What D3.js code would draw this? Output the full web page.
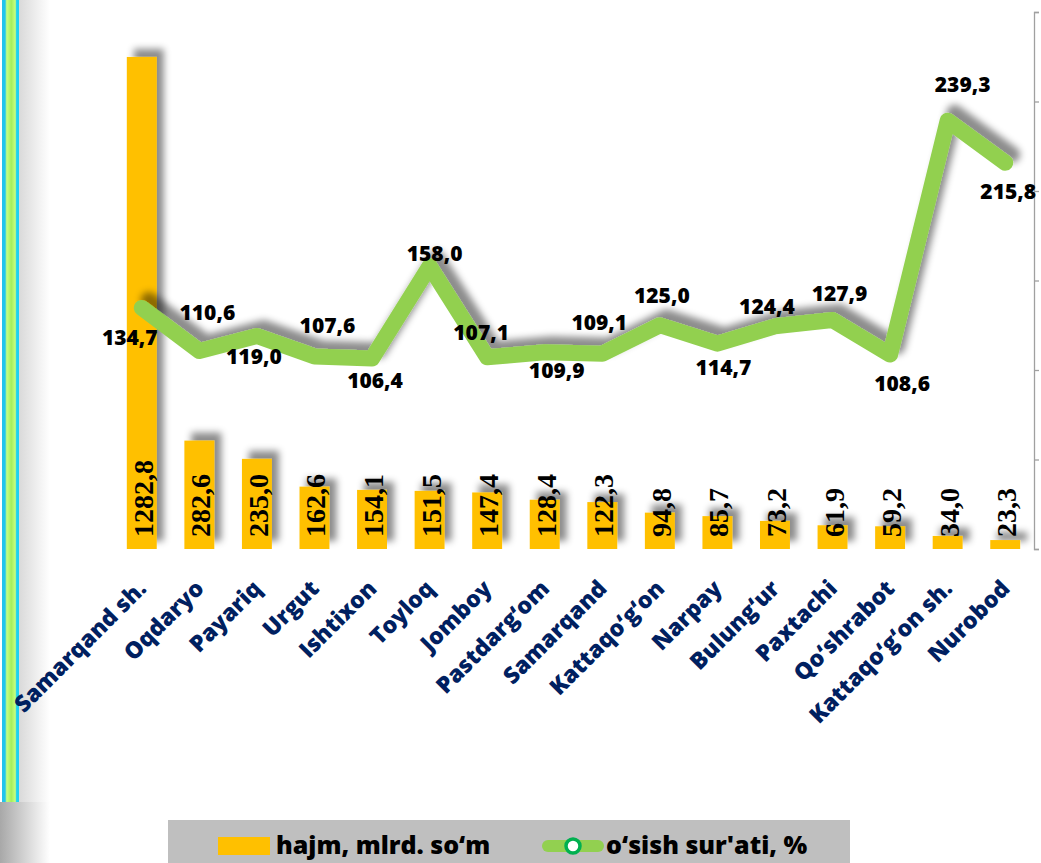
<!doctype html>
<meta charset="utf-8">
<style>
body { margin: 0; background: #fff; }
.xlab { font-family: "Open Sans", sans-serif; font-weight: 800; font-size: 23px; fill: #002060; }
.barlab { font-family: "Liberation Serif", serif; font-weight: bold; font-size: 28px; fill: #000; }
.ratelab { font-family: "Open Sans", sans-serif; font-weight: 800; font-size: 21px; fill: #000; }
.leg { font-family: "Open Sans", sans-serif; font-weight: 800; font-size: 25px; fill: #000; }
</style>
<html lang="uz">
<body>
<script src="https://d3js.org/d3.v7.min.js"></script>
<script>
// districts
var districts = ["Samarqand sh.", "Oqdaryo", "Payariq", "Urgut", "Ishtixon", "Toyloq", "Jomboy",
  "Pastdarg\u2018om", "Samarqand", "Kattaqo\u2018g\u2018on", "Narpay", "Bulung\u2018ur", "Paxtachi",
  "Qo\u2018shrabot", "Kattaqo\u2018g\u2018on sh.", "Nurobod"];
// hajm, mlrd. so'm
var volume = [1282.8, 282.6, 235.0, 162.6, 154.1, 151.5, 147.4, 128.4, 122.3, 94.8, 85.7, 73.2, 61.9, 59.2, 34.0, 23.3];
// o'sish sur'ati, %
var growth = [134.7, 110.6, 119.0, 107.6, 106.4, 158.0, 107.1, 109.9, 109.1, 125.0, 114.7, 124.4, 127.9, 108.6, 239.3, 215.8];
var seriesNames = ["hajm, mlrd. so\u2018m", "o\u2018sish sur'ati, %"];

// where each growth label sits relative to its point (layout only)
var labelShift = [[-12, 30], [8, -39], [-3, 20], [13, -31], [3, 22], [5, -13], [-6, -25], [12, 18],
  [-3, -31], [2, -30], [6, 24], [-8, -20], [7, -27], [12, 29], [15, -36], [3, 29]];

var W = 1041, H = 863;
var fmt = function(v) { return d3.format(".1f")(v).replace(".", ","); };

var svg = d3.select("body").append("svg")
    .attr("width", W)
    .attr("height", H);

var defs = svg.append("defs");
var sh = defs.append("filter").attr("id", "shadow")
    .attr("x", "-30%").attr("y", "-30%").attr("width", "160%").attr("height", "160%");
sh.append("feDropShadow").attr("dx", 7).attr("dy", -8).attr("stdDeviation", 3.5)
    .attr("flood-color", "#000").attr("flood-opacity", 0.45);

// left decorative strip
var sg = defs.append("linearGradient").attr("id", "strip");
[["0%", "#22c4ec"], ["18%", "#22c4ec"], ["28%", "#c8ff80"], ["55%", "#a6ee5c"], ["78%", "#c8ff80"], ["86%", "#1ed1f0"], ["100%", "#1ed1f0"]]
  .forEach(function(s) { sg.append("stop").attr("offset", s[0]).attr("stop-color", s[1]); });
var fade = defs.append("linearGradient").attr("id", "fade");
fade.append("stop").attr("offset", "0%").attr("stop-color", "#d8d8d8");
fade.append("stop").attr("offset", "100%").attr("stop-color", "#fff");
var fade2 = defs.append("linearGradient").attr("id", "fade2");
fade2.append("stop").attr("offset", "0%").attr("stop-color", "#a8a8a8");
fade2.append("stop").attr("offset", "100%").attr("stop-color", "#fff");

svg.append("rect").attr("x", 18).attr("y", 0).attr("width", 32).attr("height", 802).attr("fill", "url(#fade)");
svg.append("rect").attr("x", 0).attr("y", 802).attr("width", 50).attr("height", 61).attr("fill", "url(#fade2)");
svg.append("rect").attr("x", 2).attr("y", 0).attr("width", 17).attr("height", 802).attr("fill", "url(#strip)");

// scales
var x = d3.scaleBand().domain(districts).range([113, 1034]).paddingInner(0.48).paddingOuter(0.24);
var yBar = d3.scaleLinear().domain([0, 1400]).range([549, 12]);
var yRate = d3.scaleLinear().domain([0, 300]).range([549, 12]);
var cx = function(i) { return x(districts[i]) + x.bandwidth() / 2; };

// right axis
var ax = svg.append("g")
    .attr("transform", "translate(1034,0)")
    .call(d3.axisRight(yRate).ticks(6).tickSize(5).tickFormat(""));
ax.selectAll("path, line").attr("stroke", "#a0a0a0").attr("stroke-width", 1.3);

// bars
svg.append("g").attr("filter", "url(#shadow)")
  .selectAll("rect").data(volume).join("rect")
    .attr("x", function(d, i) { return x(districts[i]); })
    .attr("y", function(d) { return yBar(d); })
    .attr("width", x.bandwidth())
    .attr("height", function(d) { return yBar(0) - yBar(d); })
    .attr("fill", "#FFC000");

svg.append("g").selectAll("text").data(volume).join("text")
    .attr("class", "barlab")
    .attr("transform", function(d, i) { return "translate(" + (cx(i) + 11) + ",537) rotate(-90)"; })
    .text(fmt);

// growth line
var line = d3.line()
    .x(function(d, i) { return cx(i); })
    .y(function(d) { return yRate(d); });

svg.append("path")
    .datum(growth)
    .attr("d", line)
    .attr("fill", "none")
    .attr("stroke", "#92D050")
    .attr("stroke-width", 16)
    .attr("stroke-linejoin", "round")
    .attr("stroke-linecap", "round")
    .attr("filter", "url(#shadow)");

svg.append("g").selectAll("text").data(growth).join("text")
    .attr("class", "ratelab")
    .attr("text-anchor", "middle")
    .attr("x", function(d, i) { return cx(i) + labelShift[i][0]; })
    .attr("y", function(d, i) { return yRate(d) + labelShift[i][1]; })
    .attr("dy", "0.36em")
    .text(fmt);

// category labels
svg.append("g").selectAll("text").data(districts).join("text")
    .attr("class", "xlab")
    .attr("text-anchor", "end")
    .attr("transform", function(d, i) { return "translate(" + (cx(i) + 6) + ",590) rotate(-45)"; })
    .text(function(d) { return d; });

// legend
var lg = svg.append("g");
lg.append("rect").attr("x", 168).attr("y", 820).attr("width", 682).attr("height", 43).attr("fill", "#BFBFBF");
lg.append("rect").attr("x", 218).attr("y", 837).attr("width", 52).attr("height", 18).attr("fill", "#FFC000");
lg.append("text").attr("class", "leg").attr("x", 276).attr("y", 854).text(seriesNames[0]);
lg.append("line").attr("x1", 548).attr("x2", 598).attr("y1", 846).attr("y2", 846)
    .attr("stroke", "#92D050").attr("stroke-width", 12).attr("stroke-linecap", "round");
lg.append("circle").attr("cx", 573).attr("cy", 846).attr("r", 7)
    .attr("fill", "#fff").attr("stroke", "#00B050").attr("stroke-width", 3.5);
lg.append("text").attr("class", "leg").attr("x", 606).attr("y", 854).text(seriesNames[1]);
</script>
</body>
</html>
